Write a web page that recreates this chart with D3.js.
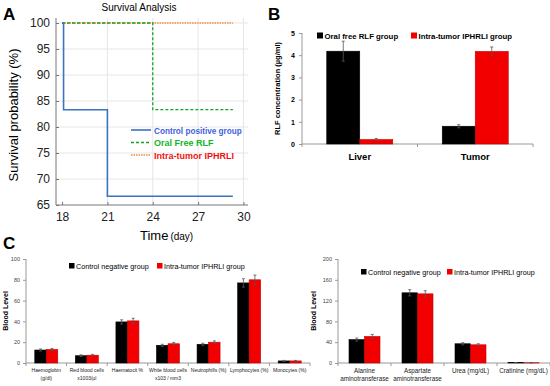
<!DOCTYPE html>
<html>
<head>
<meta charset="utf-8">
<script src="https://cdn.jsdelivr.net/npm/d3@7"></script>
<style>
  body { margin: 0; background: #fff; }
  svg { display: block; font-family: "Liberation Sans", Arial, sans-serif; }
</style>
</head>
<body>
<svg id="chart" width="550" height="386"></svg>
<script>
// ---- Panel A: survival
const survTicksX = [18, 21, 24, 27, 30];
const survTicksY = [65, 70, 75, 80, 85, 90, 95, 100];
const controlDays = [18, 18.1, 21, 29.3];
const controlSurv = [100, 83.33, 66.67, 66.67];
const oralDays = [18, 24, 29.3];
const oralSurv = [100, 83.33, 83.33];
const iphrliDays = [18, 29.3];
const iphrliSurv = [100, 100];

// ---- Panel B: RLF concentration
const rlfOrgans = ["Liver", "Tumor"];
const rlfOral = [4.18, 0.8];
const rlfOralErr = [0.45, 0.07];
const rlfIphrli = [0.2, 4.17];
const rlfIphrliErr = [0.05, 0.2];
const rlfTicks = [0, 1, 2, 3, 4, 5];

// ---- Panel C left: haematology
const haemCats = [["Haemoglobin", "(g/dl)"], ["Red blood cells", "x1003/µl"], ["Haematocit  %"],
  ["White blood cells", "x103 / mm3"], ["Neutrophills (%)"], ["Lymphocytes (%)"], ["Monocytes (%)"]];
const haemControl = [12.5, 7, 39.5, 17, 18, 77, 2];
const haemControlErr = [1, 0.8, 2, 1, 1, 4, 0.5];
const haemIphrli = [13, 7.5, 40.5, 18.5, 20, 80, 2];
const haemIphrliErr = [1, 0.8, 2.5, 1.3, 1.3, 4.5, 0.5];
const haemTicks = [0, 20, 40, 60, 80, 100];

// ---- Panel C right: biochemistry
const bioCats = [["Alanine", "aminotransferase"], ["Aspartate", "aminotransferase"], ["Urea (mg/dL)"], ["Cratinine (mg/dL)"]];
const bioControl = [45, 135, 37, 0.8];
const bioControlErr = [3, 6, 2, 0.1];
const bioIphrli = [51, 133, 35, 0.5];
const bioIphrliErr = [4, 6, 2, 0.1];
const bioTicks = [0, 40, 80, 120, 160, 200];

const svg = d3.select("#chart");

function panelLetter(t, x, y) {
  svg.append("text").attr("x", x).attr("y", y).text(t)
    .style("font-size", "17px").style("font-weight", "bold");
}

// ================= Panel A =================
panelLetter("A", 3, 20);
const ax = d3.scaleLinear().domain([17.6, 30.3]).range([56, 248]);
const ay = d3.scaleLinear().domain([65, 100]).range([205, 23]);
const gA = svg.append("g");

gA.append("text").attr("x", 139).attr("y", 11).attr("text-anchor", "middle")
  .style("font-size", "10px").text("Survival Analysis");

// grid
gA.append("g").selectAll("line").data(survTicksY.slice(1)).join("line")
  .attr("x1", ax.range()[0]).attr("x2", ax.range()[1])
  .attr("y1", d => ay(d)).attr("y2", d => ay(d))
  .attr("stroke", "#e6e6e6");
gA.append("g").selectAll("line").data(survTicksX.slice(1)).join("line")
  .attr("x1", d => ax(d)).attr("x2", d => ax(d))
  .attr("y1", ay(65)).attr("y2", 18)
  .attr("stroke", "#e6e6e6");

gA.append("g").attr("transform", "translate(56,0)")
  .call(d3.axisLeft(ay).tickValues(survTicksY).tickSize(3).tickPadding(3))
  .call(g => g.select(".domain").attr("stroke", "#777").attr("d", "M0,18V205"))
  .call(g => g.selectAll(".tick line").attr("stroke", "#777").attr("x2", 3))
  .call(g => g.selectAll("text").style("font-size", "12px").style("font-family", "Liberation Sans, Arial").attr("fill", "#222"));

gA.append("g").attr("transform", "translate(0,205)")
  .call(d3.axisBottom(ax).tickValues(survTicksX).tickSize(3).tickPadding(4))
  .call(g => g.select(".domain").attr("stroke", "#777").attr("d", "M56,0H248"))
  .call(g => g.selectAll(".tick line").attr("stroke", "#777").attr("y2", -3))
  .call(g => g.selectAll("text").style("font-size", "12px").style("font-family", "Liberation Sans, Arial").attr("fill", "#222"));

gA.append("text").attr("transform", "translate(18,115) rotate(-90)")
  .attr("text-anchor", "middle").style("font-size", "13px").text("Survival probability (%)");

const stepLine = d3.line().curve(d3.curveStepAfter).x(d => ax(d[0])).y(d => ay(d[1]));
const series = [
  { days: iphrliDays, surv: iphrliSurv, color: "#f5a56a", dash: "1.5,1", w: 2 },
  { days: oralDays, surv: oralSurv, color: "#13a52a", dash: "3,2", w: 1.3 },
  { days: controlDays, surv: controlSurv, color: "#3d72c0", dash: null, w: 1.6 }
];
series.forEach(s => {
  gA.append("path").datum(d3.zip(s.days, s.surv))
    .attr("d", stepLine).attr("fill", "none")
    .attr("stroke", s.color).attr("stroke-width", s.w)
    .attr("stroke-dasharray", s.dash);
});

const legA = [
  { label: "Control positive group", color: "#3d72c0", text: "#3f5fe0", dash: null, w: 1.6 },
  { label: "Oral Free RLF", color: "#13a52a", text: "#11b52a", dash: "3,2", w: 1.3 },
  { label: "Intra-tumor IPHRLI", color: "#f5a56a", text: "#f01010", dash: "1.5,1", w: 2 }
];
legA.forEach((d, i) => {
  const y = 130 + i * 12.5;
  gA.append("line").attr("x1", 131).attr("x2", 151).attr("y1", y).attr("y2", y)
    .attr("stroke", d.color).attr("stroke-width", d.w).attr("stroke-dasharray", d.dash);
  gA.append("text").attr("x", 154).attr("y", y + 3.5).text(d.label)
    .style("font-size", i === 0 ? "8.2px" : "9px").style("font-weight", "bold").attr("fill", d.text);
});

const timeLbl = svg.append("text").attr("x", 140).attr("y", 240).style("font-size", "13px");
timeLbl.append("tspan").text("Time");
timeLbl.append("tspan").attr("dx", 2).style("font-size", "10px").text("(day)");

// ================= grouped bar helper =================
function groupedBars(opt) {
  const g = svg.append("g");
  const x0 = d3.scaleBand().domain(opt.cats.map((c, i) => i)).range([opt.left, opt.right]);
  const x1 = d3.scaleBand().domain([0, 1]).range([0, opt.groupW]);
  const y = d3.scaleLinear().domain([0, opt.max]).range([opt.bottom, opt.top]);

  g.append("g").attr("transform", `translate(${opt.left},0)`)
    .call(d3.axisLeft(y).tickValues(opt.ticks).tickFormat(d3.format("d")).tickSize(3).tickPadding(opt.tickPad))
    .call(a => a.select(".domain").attr("stroke", "#999").attr("d", `M0,${opt.top}V${opt.bottom}`))
    .call(a => a.selectAll(".tick line").attr("stroke", "#999"))
    .call(a => a.selectAll("text").style("font-size", opt.tickFont).style("font-weight", opt.tickWeight)
      .attr("fill", opt.tickColor).style("font-family", "Liberation Sans, Arial"));

  g.append("line").attr("x1", opt.left).attr("x2", opt.right)
    .attr("y1", opt.bottom).attr("y2", opt.bottom).attr("stroke", "#999");
  g.selectAll(".sep").data(d3.range(opt.cats.length + 1)).join("line")
    .attr("x1", i => opt.left + i * x0.step()).attr("x2", i => opt.left + i * x0.step())
    .attr("y1", opt.bottom).attr("y2", opt.bottom + 3).attr("stroke", "#999");

  const vals = [opt.a, opt.b];
  const errs = [opt.aErr, opt.bErr];
  const cols = ["#000", "#f20000"];
  const strokes = ["#000", "#c00000"];
  [0, 1].forEach(s => {
    opt.cats.forEach((c, i) => {
      const bx = x0(i) + (x0.bandwidth() - opt.groupW) / 2 + x1(s);
      const v = vals[s][i];
      g.append("rect").attr("x", bx).attr("y", y(v))
        .attr("width", x1.bandwidth()).attr("height", y(0) - y(v))
        .attr("fill", cols[s]).attr("stroke", strokes[s]).attr("stroke-width", 0.6);
    });
  });
  [0, 1].forEach(s => {
    opt.cats.forEach((c, i) => {
      const cx = x0(i) + (x0.bandwidth() - opt.groupW) / 2 + x1(s) + x1.bandwidth() / 2;
      const v = vals[s][i], e = errs[s][i];
      const ec = "#555";
      g.append("line").attr("x1", cx).attr("x2", cx).attr("y1", y(v + e)).attr("y2", y(v - e))
        .attr("stroke", ec).attr("stroke-width", 0.8);
      [v + e, v - e].forEach(t => g.append("line").attr("x1", cx - 1.5).attr("x2", cx + 1.5)
        .attr("y1", y(t)).attr("y2", y(t)).attr("stroke", ec).attr("stroke-width", 0.8));
    });
  });

  opt.cats.forEach((c, i) => {
    const lines = Array.isArray(c) ? c : [c];
    const t = g.append("text").attr("x", x0(i) + x0.bandwidth() / 2).attr("y", opt.labelY)
      .attr("text-anchor", "middle").style("font-size", opt.catFont)
      .style("font-weight", opt.catWeight).attr("fill", opt.catColor);
    lines.forEach((l, k) => t.append("tspan").attr("x", x0(i) + x0.bandwidth() / 2)
      .attr("dy", k === 0 ? 0 : opt.lineH).text(l));
  });

  g.append("text").attr("transform", `translate(${opt.yLabelX},${(opt.top + opt.bottom) / 2}) rotate(-90)`)
    .attr("text-anchor", "middle").style("font-size", opt.yLabelFont).style("font-weight", "bold")
    .text(opt.yLabel);

  opt.legend.forEach((l, s) => {
    g.append("rect").attr("x", l.x).attr("y", opt.legY - opt.sq + 0.5)
      .attr("width", opt.sq).attr("height", opt.sq).attr("fill", cols[s]);
    g.append("text").attr("x", l.x + opt.sq + 1.5).attr("y", opt.legY + 1).text(l.label)
      .style("font-size", opt.legFont).style("font-weight", opt.legWeight);
  });
}

// ================= Panel B =================
panelLetter("B", 268, 20);
groupedBars({
  cats: rlfOrgans, a: rlfOral, aErr: rlfOralErr, b: rlfIphrli, bErr: rlfIphrliErr,
  left: 302, right: 533, top: 33, bottom: 144, max: 5, ticks: rlfTicks, groupW: 66,
  tickFont: "7px", tickWeight: "bold", tickColor: "#000", tickPad: 4,
  labelY: 160, catFont: "9.5px", catWeight: "bold", catColor: "#000", lineH: 10,
  yLabel: "RLF concentration (µg/ml)", yLabelX: 280, yLabelFont: "7.5px",
  legY: 38, sq: 6, legFont: "7.8px", legWeight: "bold",
  legend: [{ x: 317, label: "Oral free RLF group" }, { x: 411, label: "Intra-tumor IPHRLI  group" }]
});

// ================= Panel C =================
panelLetter("C", 3, 249);
groupedBars({
  cats: haemCats, a: haemControl, aErr: haemControlErr, b: haemIphrli, bErr: haemIphrliErr,
  left: 26, right: 310, top: 259, bottom: 363, max: 100, ticks: haemTicks, groupW: 23,
  tickFont: "5.5px", tickWeight: "normal", tickColor: "#444", tickPad: 3,
  labelY: 372, catFont: "5px", catWeight: "normal", catColor: "#222", lineH: 7.5,
  yLabel: "Blood Level", yLabelX: 8, yLabelFont: "7px",
  legY: 268, sq: 5.5, legFont: "7.2px", legWeight: "normal",
  legend: [{ x: 69, label: "Control negative group" }, { x: 157, label: "Intra-tumor IPHRLI group" }]
});

groupedBars({
  cats: bioCats, a: bioControl, aErr: bioControlErr, b: bioIphrli, bErr: bioIphrliErr,
  left: 338, right: 550, top: 259, bottom: 363, max: 200, ticks: bioTicks, groupW: 31,
  tickFont: "5.5px", tickWeight: "normal", tickColor: "#444", tickPad: 3,
  labelY: 373, catFont: "6.3px", catWeight: "normal", catColor: "#222", lineH: 8,
  yLabel: "Blood Level", yLabelX: 316, yLabelFont: "7px",
  legY: 274, sq: 5.5, legFont: "7.2px", legWeight: "normal",
  legend: [{ x: 361, label: "Control negative group" }, { x: 447, label: "Intra-tumor IPHRLI group" }]
});
</script>
</body>
</html>
